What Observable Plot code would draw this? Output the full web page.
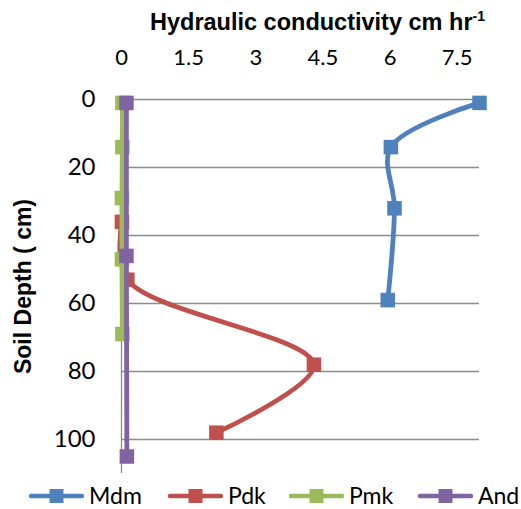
<!DOCTYPE html>
<html>
<head>
<meta charset="utf-8">
<script src="https://cdn.jsdelivr.net/npm/d3@7"></script>
<script src="https://cdn.jsdelivr.net/npm/@observablehq/plot@0.6"></script>
<style>
  html, body { margin: 0; padding: 0; background: #fff; }
  body { width: 521px; height: 509px; overflow: hidden; position: relative; font-family: Lato, "Open Sans", sans-serif; }
  #title { position: absolute; top: 11px; left: 0; width: 635px; text-align: center;
           font-family: "Liberation Sans", Arial, sans-serif; font-weight: bold; font-size: 23.5px; line-height: 23px; color: #000; white-space: nowrap; }
  #title sup { font-size: 14px; line-height: 0; vertical-align: 9px; }
  #chart { position: absolute; top: 40px; left: 0; }
  #legend { position: absolute; top: 482px; left: 0; width: 521px; height: 27px;
            font-family: Lato, "Open Sans", sans-serif; font-size: 23px; line-height: 27px; color: #000; white-space: nowrap; }
  .item { position: absolute; top: 0; height: 27px; display: flex; align-items: center; }
  .item svg { margin-right: 5px; }
</style>
</head>
<body>
<div id="title">Hydraulic conductivity cm hr<sup>-1</sup></div>
<div id="chart"></div>
<div id="legend"></div>
<script>
// ---- data ----
const xTicks = [0, 1.5, 3, 4.5, 6, 7.5];
const yTicks = [0, 20, 40, 60, 80, 100];
const seriesNames = ["Mdm", "Pdk", "Pmk", "And"];
const seriesColors = ["#4F81BD", "#C0504D", "#9BBB59", "#8064A2"];

const mdmDepth = [1, 14, 32, 59];
const mdmK = [8.0, 6.02, 6.1, 5.95];

const pdkDepth = [36, 53, 78, 98];
const pdkK = [0.01, 0.13, 4.3, 2.12];

const pmkDepth = [1, 14, 29, 47, 69];
const pmkK = [0.02, 0.02, 0.01, 0.01, 0.02];

const andDepth = [1, 46, 105];
const andK = [0.11, 0.11, 0.12];

const yLabel = "Soil Depth ( cm)";

// legend item left edges (layout)
const legendLeft = [29, 168, 289, 418];

// ---- build tables ----
const depths = [mdmDepth, pdkDepth, pmkDepth, andDepth];
const values = [mdmK, pdkK, pmkK, andK];
const series = seriesNames.map((name, i) => ({
  name,
  color: seriesColors[i],
  rows: depths[i].map((d, j) => ({depth: d, k: values[i][j]}))
}));

const seriesMarks = series.flatMap(s => [
  Plot.line(s.rows, {x: "k", y: "depth", stroke: s.color, strokeWidth: 4.8, curve: "catmull-rom", strokeLinecap: "round", strokeLinejoin: "round"}),
  Plot.dot(s.rows, {x: "k", y: "depth", symbol: "square", r: 8.2, fill: s.color, stroke: "none"})
]);

const chart = Plot.plot({
  width: 521,
  height: 442,
  marginLeft: 121,
  marginRight: 42,
  marginTop: 59,
  marginBottom: 9,
  style: {fontFamily: "Lato, 'Open Sans', sans-serif", background: "transparent", overflow: "visible"},
  x: {domain: [0, 8]},
  y: {domain: [0, 110], reverse: true},
  marks: [
    Plot.ruleY(yTicks, {stroke: "#8c8c8c", strokeWidth: 1.3}),
    Plot.ruleX([0], {stroke: "#8c8c8c", strokeWidth: 1.3}),
    Plot.axisX(xTicks, {anchor: "top", tickSize: 0, tickPadding: 35, fontSize: 22, label: null, tickFormat: d => String(d), fill: "#000"}),
    Plot.axisY(yTicks, {anchor: "left", tickSize: 0, tickPadding: 26, fontSize: 24, label: null, tickFormat: d => String(d), fill: "#000"}),
    Plot.text([yLabel], {frameAnchor: "left", textAnchor: "middle", rotate: -90, dx: -98, fontSize: 23, fontWeight: "bold", fontFamily: "'Liberation Sans', Arial, sans-serif", fill: "#000"}),
    ...seriesMarks
  ]
});
document.getElementById("chart").appendChild(chart);

// ---- legend ----
const legend = document.getElementById("legend");
series.forEach((s, i) => {
  const item = document.createElement("div");
  item.className = "item";
  item.style.left = legendLeft[i] + "px";
  item.innerHTML = `<svg width="55" height="16"><line x1="2" x2="53" y1="8" y2="8" stroke="${s.color}" stroke-width="4.5" stroke-linecap="round"/><rect x="20.5" y="1" width="14" height="14" fill="${s.color}"/></svg><span>${s.name}</span>`;
  legend.appendChild(item);
});
</script>
</body>
</html>
